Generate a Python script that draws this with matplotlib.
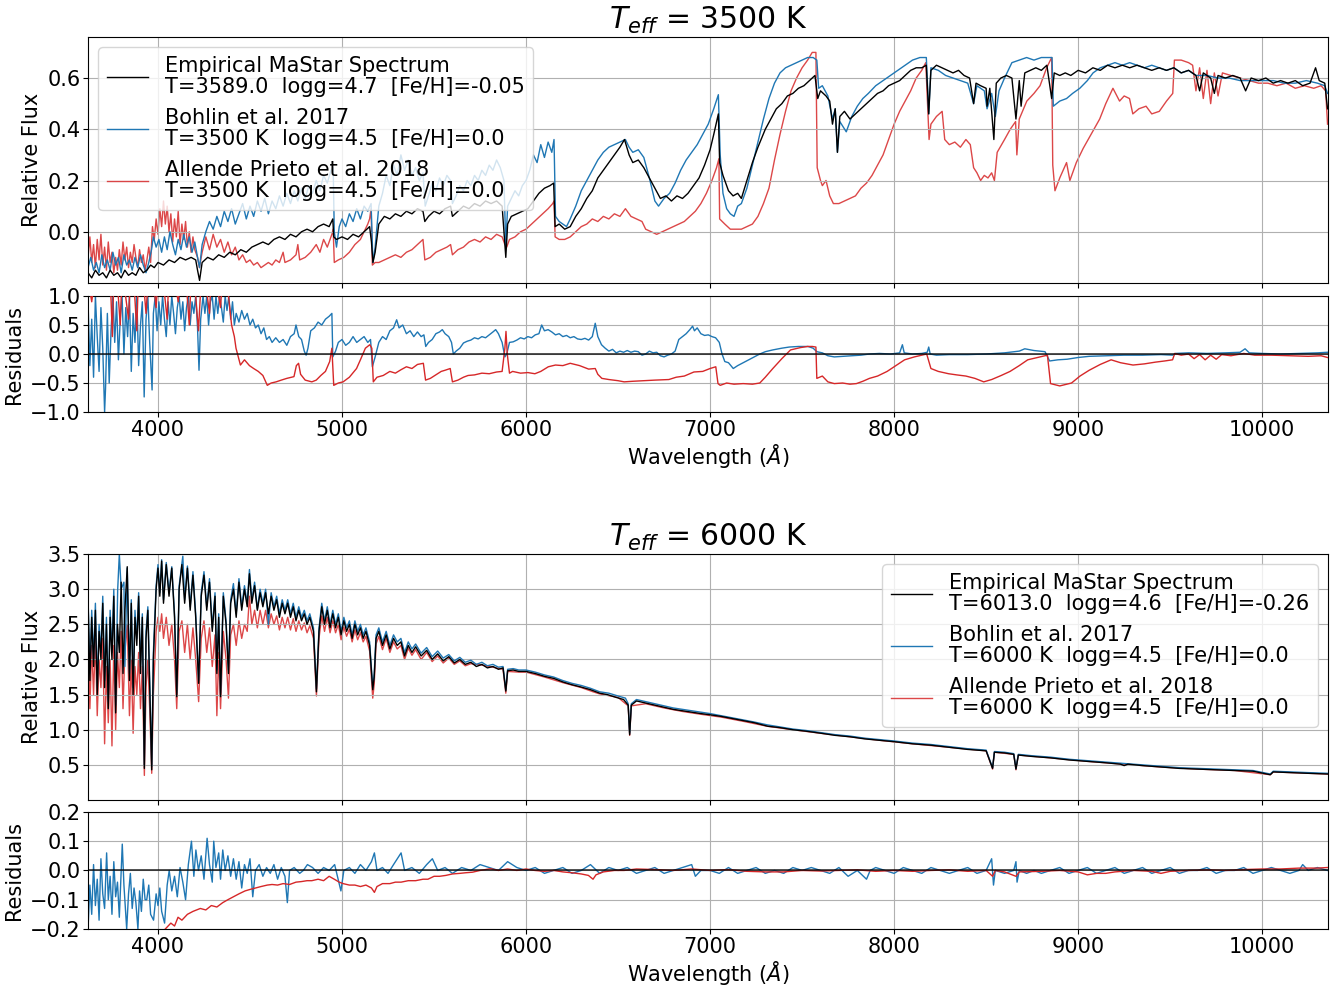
import numpy as np
import matplotlib.pyplot as plt

# ---- T_eff = 3500 K : (wavelength, relative flux) ----
mastar_3500 = np.array([
    (3620, -0.16), (3640, -0.18), (3660, -0.15), (3680, -0.17), (3700, -0.16), (3720, -0.18),
    (3740, -0.15), (3760, -0.17), (3780, -0.16), (3800, -0.18), (3820, -0.15), (3840, -0.17),
    (3860, -0.16), (3880, -0.17), (3900, -0.14), (3920, -0.16), (3940, -0.15), (3960, -0.13),
    (3980, -0.14), (4000, -0.12), (4030, -0.13), (4060, -0.11), (4090, -0.12), (4120, -0.10),
    (4150, -0.11), (4180, -0.10), (4205, -0.11), (4215, -0.15), (4226, -0.19), (4240, -0.12),
    (4270, -0.10), (4300, -0.11), (4330, -0.09), (4360, -0.10), (4390, -0.08), (4420, -0.09),
    (4450, -0.07), (4480, -0.08), (4510, -0.06), (4540, -0.05), (4570, -0.04), (4600, -0.05),
    (4630, -0.03), (4660, -0.02), (4690, -0.03), (4720, -0.01), (4750, -0.02), (4780, 0.0),
    (4810, 0.01), (4840, 0.0), (4870, 0.02), (4900, 0.03), (4930, 0.02), (4950, 0.05),
    (4955, -0.02), (4970, -0.03), (5000, -0.02), (5030, -0.03), (5060, -0.01), (5090, -0.02),
    (5120, 0.0), (5150, 0.02), (5160, -0.04), (5168, -0.12), (5180, -0.08), (5200, 0.03),
    (5230, 0.06), (5260, 0.05), (5290, 0.07), (5320, 0.06), (5350, 0.08), (5380, 0.07),
    (5410, 0.09), (5440, 0.08), (5450, 0.04), (5470, 0.06), (5500, 0.08), (5530, 0.07),
    (5560, 0.09), (5590, 0.10), (5600, 0.06), (5630, 0.08), (5660, 0.10), (5690, 0.09),
    (5720, 0.11), (5750, 0.10), (5780, 0.12), (5810, 0.11), (5840, 0.12), (5870, 0.10),
    (5890, -0.10), (5900, 0.03), (5920, 0.06), (5950, 0.07), (5980, 0.08), (6010, 0.09),
    (6040, 0.12), (6070, 0.15), (6100, 0.17), (6130, 0.18), (6150, 0.19), (6158, 0.02),
    (6180, 0.03), (6210, 0.01), (6240, 0.02), (6270, 0.06), (6300, 0.09), (6330, 0.13),
    (6360, 0.16), (6390, 0.21), (6420, 0.24), (6450, 0.27), (6480, 0.30), (6510, 0.33),
    (6535, 0.36), (6560, 0.30), (6580, 0.27), (6610, 0.28), (6640, 0.25), (6670, 0.21),
    (6700, 0.17), (6730, 0.13), (6760, 0.14), (6790, 0.12), (6820, 0.14), (6850, 0.13),
    (6880, 0.15), (6910, 0.18), (6940, 0.21), (6970, 0.26), (7000, 0.32), (7020, 0.38),
    (7045, 0.46), (7052, 0.27), (7070, 0.22), (7100, 0.16), (7125, 0.14), (7150, 0.15),
    (7170, 0.13), (7200, 0.20), (7230, 0.27), (7260, 0.33), (7300, 0.40), (7330, 0.44),
    (7360, 0.48), (7390, 0.50), (7420, 0.53), (7450, 0.54), (7480, 0.56), (7510, 0.57),
    (7540, 0.59), (7570, 0.61), (7585, 0.52), (7600, 0.55), (7630, 0.53), (7650, 0.51),
    (7665, 0.42), (7680, 0.48), (7692, 0.31), (7705, 0.45), (7730, 0.47), (7760, 0.44),
    (7790, 0.46), (7820, 0.48), (7850, 0.50), (7880, 0.52), (7910, 0.54), (7940, 0.55),
    (7970, 0.57), (8000, 0.58), (8030, 0.59), (8060, 0.61), (8090, 0.63), (8120, 0.64),
    (8150, 0.64), (8175, 0.65), (8188, 0.46), (8200, 0.63), (8230, 0.65), (8260, 0.64),
    (8290, 0.63), (8320, 0.62), (8350, 0.63), (8380, 0.61), (8410, 0.60), (8432, 0.50),
    (8445, 0.58), (8470, 0.57), (8500, 0.56), (8505, 0.49), (8520, 0.56), (8542, 0.36),
    (8555, 0.58), (8580, 0.60), (8610, 0.61), (8640, 0.60), (8662, 0.44), (8680, 0.59),
    (8690, 0.49), (8710, 0.62), (8740, 0.63), (8770, 0.64), (8800, 0.63), (8830, 0.65),
    (8856, 0.52), (8870, 0.62), (8900, 0.61), (8930, 0.62), (8960, 0.61), (9000, 0.63),
    (9040, 0.62), (9080, 0.64), (9120, 0.63), (9160, 0.65), (9200, 0.64), (9240, 0.65),
    (9280, 0.64), (9320, 0.65), (9360, 0.64), (9400, 0.63), (9440, 0.64), (9480, 0.63),
    (9520, 0.64), (9560, 0.62), (9600, 0.63), (9640, 0.61), (9660, 0.55), (9680, 0.62),
    (9720, 0.60), (9740, 0.54), (9760, 0.61), (9800, 0.60), (9840, 0.61), (9880, 0.60),
    (9910, 0.55), (9940, 0.60), (9980, 0.59), (10020, 0.60), (10060, 0.58), (10100, 0.59),
    (10140, 0.58), (10180, 0.59), (10220, 0.57), (10260, 0.58), (10290, 0.64), (10310, 0.59),
    (10340, 0.58), (10355, 0.48)])

bohlin_3500 = np.array([
    (3620, -0.14), (3635, -0.10), (3650, -0.15), (3665, -0.12), (3680, -0.16), (3695, -0.09),
    (3710, -0.14), (3725, -0.11), (3740, -0.15), (3755, -0.08), (3770, -0.13), (3785, -0.10),
    (3800, -0.16), (3815, -0.09), (3830, -0.13), (3845, -0.11), (3860, -0.15), (3875, -0.10),
    (3890, -0.14), (3905, -0.09), (3920, -0.13), (3935, -0.16), (3950, -0.12), (3965, -0.07),
    (3975, -0.02), (3990, -0.06), (4005, -0.03), (4020, -0.08), (4035, -0.02), (4050, -0.07),
    (4065, 0.00), (4080, -0.05), (4095, -0.09), (4110, -0.03), (4125, -0.07), (4140, -0.01),
    (4155, -0.06), (4170, -0.02), (4185, -0.08), (4200, -0.04), (4215, -0.10), (4226, -0.14),
    (4240, -0.05), (4260, 0.00), (4280, 0.04), (4300, 0.01), (4320, 0.06), (4340, 0.02),
    (4360, 0.08), (4380, 0.04), (4400, 0.09), (4420, 0.03), (4440, 0.07), (4460, 0.11),
    (4480, 0.05), (4500, 0.10), (4520, 0.06), (4540, 0.12), (4560, 0.08), (4580, 0.13),
    (4600, 0.07), (4620, 0.12), (4640, 0.09), (4660, 0.14), (4680, 0.10), (4700, 0.15),
    (4720, 0.11), (4740, 0.16), (4760, 0.12), (4780, 0.17), (4800, 0.13), (4820, 0.18),
    (4840, 0.15), (4860, 0.20), (4880, 0.16), (4900, 0.22), (4920, 0.19), (4940, 0.24),
    (4952, 0.25), (4958, 0.00), (4970, -0.06), (4985, 0.02), (5000, 0.05), (5020, 0.02),
    (5040, 0.07), (5060, 0.04), (5080, 0.09), (5100, 0.05), (5120, 0.10), (5140, 0.08),
    (5158, 0.11), (5168, -0.12), (5180, -0.06), (5200, 0.10), (5220, 0.15), (5240, 0.22),
    (5260, 0.18), (5280, 0.26), (5300, 0.22), (5320, 0.30), (5340, 0.24), (5360, 0.28),
    (5380, 0.22), (5400, 0.25), (5420, 0.20), (5440, 0.23), (5452, 0.10), (5470, 0.14),
    (5490, 0.19), (5510, 0.16), (5530, 0.21), (5550, 0.18), (5570, 0.22), (5590, 0.20),
    (5600, 0.11), (5620, 0.14), (5640, 0.18), (5660, 0.16), (5680, 0.20), (5700, 0.18),
    (5720, 0.22), (5740, 0.20), (5760, 0.24), (5780, 0.22), (5800, 0.26), (5820, 0.24),
    (5840, 0.28), (5860, 0.25), (5880, 0.20), (5890, -0.06), (5900, 0.10), (5920, 0.13),
    (5940, 0.16), (5960, 0.14), (5980, 0.18), (6000, 0.20), (6020, 0.24), (6040, 0.30),
    (6060, 0.27), (6080, 0.34), (6100, 0.29), (6120, 0.35), (6140, 0.31), (6152, 0.36),
    (6160, 0.06), (6180, 0.04), (6200, 0.03), (6220, 0.02), (6240, 0.05), (6270, 0.10),
    (6300, 0.16), (6330, 0.20), (6360, 0.24), (6390, 0.28), (6420, 0.31), (6450, 0.33),
    (6480, 0.34), (6510, 0.35), (6540, 0.36), (6560, 0.33), (6580, 0.31), (6610, 0.32),
    (6640, 0.29), (6670, 0.21), (6700, 0.12), (6720, 0.10), (6750, 0.13), (6780, 0.15),
    (6810, 0.19), (6840, 0.24), (6870, 0.28), (6900, 0.31), (6930, 0.34), (6960, 0.38),
    (6990, 0.42), (7020, 0.48), (7045, 0.535), (7055, 0.30), (7070, 0.15), (7090, 0.09),
    (7110, 0.07), (7130, 0.06), (7150, 0.10), (7170, 0.11), (7200, 0.17), (7230, 0.26),
    (7260, 0.35), (7290, 0.44), (7320, 0.52), (7350, 0.58), (7380, 0.62), (7410, 0.64),
    (7440, 0.65), (7470, 0.66), (7500, 0.67), (7530, 0.68), (7560, 0.68), (7580, 0.67),
    (7590, 0.56), (7610, 0.57), (7640, 0.53), (7665, 0.44), (7680, 0.48), (7692, 0.31),
    (7705, 0.43), (7740, 0.39), (7770, 0.45), (7800, 0.49), (7830, 0.52), (7860, 0.54),
    (7900, 0.57), (7940, 0.59), (7980, 0.61), (8020, 0.63), (8060, 0.65), (8100, 0.67),
    (8140, 0.68), (8175, 0.68), (8188, 0.46), (8200, 0.64), (8240, 0.63), (8280, 0.61),
    (8320, 0.60), (8360, 0.59), (8400, 0.58), (8432, 0.50), (8450, 0.57), (8490, 0.55),
    (8505, 0.48), (8530, 0.54), (8550, 0.45), (8570, 0.55), (8600, 0.60), (8640, 0.66),
    (8680, 0.67), (8720, 0.68), (8760, 0.67), (8800, 0.68), (8840, 0.68), (8858, 0.68),
    (8865, 0.49), (8900, 0.51), (8937, 0.52), (8970, 0.54), (9009, 0.56), (9050, 0.59),
    (9081, 0.62), (9120, 0.64), (9160, 0.65), (9200, 0.66), (9240, 0.65), (9280, 0.66),
    (9320, 0.65), (9360, 0.64), (9400, 0.65), (9440, 0.64), (9480, 0.63), (9520, 0.64),
    (9560, 0.62), (9600, 0.63), (9640, 0.61), (9700, 0.61), (9760, 0.60), (9820, 0.60),
    (9880, 0.59), (9940, 0.59), (10000, 0.59), (10060, 0.59), (10120, 0.58), (10180, 0.58),
    (10240, 0.59), (10300, 0.58), (10340, 0.57), (10355, 0.54)])

allende_3500 = np.array([
    (3620, -0.10), (3630, -0.02), (3640, -0.12), (3650, -0.05), (3660, -0.14), (3670, -0.03),
    (3680, -0.11), (3690, -0.01), (3700, -0.13), (3710, -0.06), (3720, -0.15), (3730, -0.04),
    (3740, -0.12), (3750, -0.08), (3760, -0.16), (3770, -0.10), (3780, -0.15), (3790, -0.07),
    (3800, -0.13), (3810, -0.04), (3820, -0.11), (3830, -0.06), (3840, -0.14), (3850, -0.08),
    (3860, -0.12), (3870, -0.05), (3880, -0.10), (3890, -0.14), (3900, -0.07), (3910, -0.12),
    (3920, -0.09), (3930, -0.15), (3940, -0.11), (3950, -0.06), (3960, -0.12), (3970, 0.02),
    (3980, -0.03), (3990, 0.05), (4000, -0.01), (4010, 0.09), (4020, 0.02), (4030, 0.12),
    (4040, 0.03), (4050, 0.10), (4060, 0.0), (4070, 0.07), (4080, -0.04), (4090, 0.05),
    (4100, -0.02), (4110, 0.08), (4120, -0.05), (4130, 0.03), (4140, -0.03), (4150, 0.04),
    (4160, -0.06), (4170, 0.0), (4180, -0.08), (4190, -0.02), (4200, -0.07), (4215, -0.10),
    (4225, -0.14), (4240, -0.08), (4260, -0.02), (4280, -0.07), (4300, -0.01), (4320, -0.06),
    (4340, -0.03), (4360, -0.08), (4380, -0.04), (4400, -0.09), (4420, -0.06), (4440, -0.11),
    (4460, -0.09), (4480, -0.12), (4500, -0.11), (4520, -0.13), (4540, -0.12), (4560, -0.14),
    (4580, -0.13), (4600, -0.12), (4620, -0.13), (4640, -0.11), (4660, -0.12), (4680, -0.08),
    (4690, -0.12), (4720, -0.11), (4750, -0.09), (4760, -0.05), (4770, -0.11), (4800, -0.10),
    (4830, -0.08), (4860, -0.05), (4880, -0.08), (4900, -0.03), (4920, -0.06), (4945, -0.01),
    (4952, 0.01), (4958, -0.12), (4980, -0.11), (5010, -0.10), (5040, -0.08), (5070, -0.05),
    (5100, -0.03), (5120, 0.0), (5140, 0.03), (5150, 0.05), (5158, 0.09), (5165, -0.13),
    (5180, -0.12), (5200, -0.12), (5230, -0.11), (5260, -0.10), (5290, -0.09), (5320, -0.10),
    (5350, -0.08), (5380, -0.07), (5410, -0.05), (5440, -0.03), (5450, -0.11), (5480, -0.10),
    (5510, -0.08), (5540, -0.07), (5570, -0.06), (5590, -0.05), (5600, -0.09), (5630, -0.07),
    (5660, -0.06), (5690, -0.04), (5720, -0.03), (5750, -0.04), (5780, -0.02), (5810, -0.03),
    (5840, -0.01), (5870, -0.02), (5885, -0.05), (5895, -0.06), (5910, -0.03), (5940, -0.02),
    (5970, 0.0), (6000, 0.01), (6030, 0.03), (6060, 0.05), (6090, 0.07), (6120, 0.09),
    (6145, 0.11), (6152, 0.12), (6158, -0.02), (6180, -0.03), (6210, -0.03), (6240, -0.02),
    (6270, 0.0), (6300, 0.02), (6330, 0.03), (6360, 0.05), (6390, 0.04), (6420, 0.06),
    (6450, 0.05), (6480, 0.07), (6510, 0.06), (6540, 0.09), (6570, 0.06), (6600, 0.05),
    (6630, 0.04), (6650, 0.01), (6680, 0.0), (6710, -0.01), (6740, 0.0), (6770, 0.01),
    (6800, 0.02), (6830, 0.03), (6860, 0.04), (6890, 0.06), (6920, 0.08), (6950, 0.11),
    (6980, 0.15), (7010, 0.20), (7035, 0.25), (7048, 0.285), (7052, 0.05), (7080, 0.03),
    (7110, 0.01), (7140, 0.01), (7170, 0.01), (7200, 0.02), (7230, 0.03), (7260, 0.06),
    (7290, 0.11), (7320, 0.17), (7350, 0.28), (7380, 0.38), (7410, 0.47), (7440, 0.55),
    (7470, 0.60), (7500, 0.64), (7530, 0.67), (7555, 0.70), (7575, 0.70), (7582, 0.25),
    (7600, 0.20), (7610, 0.18), (7630, 0.20), (7650, 0.14), (7670, 0.11), (7700, 0.11),
    (7730, 0.12), (7760, 0.13), (7790, 0.14), (7820, 0.17), (7850, 0.19), (7880, 0.22),
    (7910, 0.26), (7940, 0.30), (7970, 0.36), (8000, 0.42), (8030, 0.47), (8060, 0.51),
    (8090, 0.55), (8120, 0.60), (8150, 0.63), (8172, 0.66), (8190, 0.36), (8200, 0.42),
    (8230, 0.45), (8261, 0.47), (8275, 0.36), (8300, 0.34), (8330, 0.35), (8360, 0.33),
    (8390, 0.36), (8414, 0.34), (8432, 0.25), (8450, 0.23), (8470, 0.20), (8490, 0.22),
    (8510, 0.21), (8530, 0.23), (8545, 0.20), (8560, 0.31), (8600, 0.36), (8631, 0.40),
    (8660, 0.43), (8667, 0.30), (8680, 0.44), (8721, 0.51), (8760, 0.54), (8793, 0.57),
    (8829, 0.64), (8856, 0.68), (8862, 0.26), (8874, 0.16), (8900, 0.21), (8937, 0.27),
    (8955, 0.20), (8990, 0.27), (9027, 0.325), (9070, 0.38), (9117, 0.44), (9150, 0.50),
    (9189, 0.56), (9225, 0.51), (9250, 0.53), (9279, 0.52), (9297, 0.46), (9330, 0.48),
    (9369, 0.49), (9400, 0.46), (9441, 0.47), (9480, 0.51), (9514, 0.54), (9523, 0.67),
    (9560, 0.67), (9600, 0.66), (9622, 0.65), (9640, 0.55), (9660, 0.64), (9680, 0.52),
    (9700, 0.63), (9720, 0.50), (9740, 0.62), (9760, 0.53), (9784, 0.62), (9830, 0.61),
    (9880, 0.60), (9930, 0.59), (9980, 0.58), (10030, 0.58), (10080, 0.57), (10130, 0.58),
    (10180, 0.56), (10230, 0.57), (10280, 0.56), (10320, 0.57), (10345, 0.55), (10355, 0.42)])

# ---- T_eff = 3500 K : residuals ----
res_bohlin_3500 = np.array([
    (3620, 0.9), (3630, -0.2), (3640, 0.6), (3650, -0.4), (3660, 1.0), (3670, 0.3), (3680, -0.3),
    (3690, 0.8), (3700, 0.1), (3710, -1.0), (3715, -0.6), (3725, 0.7), (3735, -0.5), (3745, 0.4),
    (3755, 1.0), (3765, 0.2), (3775, 0.9), (3785, -0.1), (3795, 0.6), (3805, 1.0), (3815, 0.0),
    (3825, 0.8), (3835, 0.3), (3845, 1.0), (3855, -0.3), (3865, 0.7), (3875, 0.2), (3885, 1.0),
    (3895, -0.2), (3905, 0.5), (3915, 0.9), (3925, -0.74), (3935, 0.6), (3945, 1.0), (3955, 0.2),
    (3968, -0.62), (3975, 0.7), (3985, 1.0), (3995, 0.4), (4005, 0.9), (4015, 0.5), (4025, 1.0),
    (4035, 0.6), (4045, 0.3), (4055, 0.9), (4065, 0.5), (4075, 1.0), (4085, 0.7), (4095, 0.35),
    (4105, 0.8), (4115, 1.0), (4125, 0.6), (4135, 0.9), (4145, 0.4), (4155, 0.8), (4165, 1.0),
    (4175, 0.5), (4185, 0.9), (4195, 0.7), (4205, 1.0), (4215, 0.45), (4223, -0.28), (4232, 0.6),
    (4245, 1.0), (4255, 0.7), (4265, 1.0), (4275, 0.5), (4285, 0.9), (4295, 1.0), (4305, 0.6),
    (4315, 1.0), (4325, 0.7), (4335, 1.0), (4345, 0.8), (4355, 0.55), (4365, 1.0), (4375, 0.75),
    (4385, 1.0), (4395, 0.6), (4405, 0.9), (4415, 0.5), (4425, 0.7), (4440, 0.55), (4455, 0.75),
    (4470, 0.6), (4485, 0.7), (4500, 0.5), (4515, 0.6), (4530, 0.45), (4545, 0.5), (4560, 0.35),
    (4575, 0.45), (4590, 0.25), (4605, 0.3), (4620, 0.2), (4640, 0.28), (4660, 0.2), (4680, 0.25),
    (4700, 0.15), (4720, 0.3), (4740, 0.35), (4750, 0.5), (4765, 0.3), (4780, 0.25), (4795, 0.05),
    (4805, -0.02), (4815, 0.1), (4830, 0.4), (4850, 0.45), (4870, 0.55), (4890, 0.5), (4910, 0.6),
    (4930, 0.65), (4945, 0.7), (4950, -0.05), (4965, 0.05), (4980, 0.2), (5000, 0.25), (5020, 0.15),
    (5040, 0.2), (5060, 0.3), (5080, 0.2), (5100, 0.25), (5120, 0.3), (5140, 0.2), (5155, 0.25),
    (5165, -0.22), (5180, -0.05), (5200, 0.2), (5220, 0.3), (5240, 0.25), (5260, 0.4), (5280, 0.45),
    (5297, 0.59), (5310, 0.45), (5330, 0.5), (5350, 0.35), (5370, 0.4), (5390, 0.3), (5410, 0.38),
    (5430, 0.3), (5445, 0.33), (5455, 0.13), (5470, 0.2), (5490, 0.25), (5510, 0.35), (5530, 0.38),
    (5545, 0.42), (5560, 0.35), (5580, 0.3), (5595, 0.2), (5605, 0.0), (5620, 0.05), (5640, 0.1),
    (5660, 0.19), (5680, 0.22), (5700, 0.24), (5720, 0.28), (5740, 0.26), (5760, 0.3), (5780, 0.28),
    (5800, 0.33), (5820, 0.38), (5835, 0.42), (5850, 0.35), (5870, 0.2), (5885, -0.05), (5895, 0.0),
    (5910, 0.2), (5930, 0.21), (5950, 0.24), (5970, 0.28), (5990, 0.26), (6010, 0.3), (6030, 0.28),
    (6050, 0.33), (6070, 0.35), (6085, 0.5), (6100, 0.4), (6120, 0.42), (6140, 0.38), (6160, 0.33),
    (6180, 0.35), (6200, 0.3), (6220, 0.32), (6240, 0.28), (6260, 0.3), (6280, 0.26), (6300, 0.25),
    (6320, 0.27), (6340, 0.24), (6360, 0.3), (6376, 0.53), (6390, 0.3), (6410, 0.16), (6430, 0.1),
    (6450, 0.05), (6470, 0.08), (6490, 0.02), (6510, 0.05), (6530, 0.03), (6550, 0.06), (6570, 0.03),
    (6590, 0.05), (6610, 0.04), (6630, -0.02), (6650, 0.0), (6670, 0.05), (6690, 0.02), (6710, 0.03),
    (6730, -0.03), (6750, -0.05), (6770, -0.02), (6790, 0.0), (6810, 0.05), (6830, 0.25), (6850, 0.3),
    (6870, 0.35), (6890, 0.42), (6905, 0.48), (6915, 0.4), (6930, 0.45), (6950, 0.35), (6970, 0.32),
    (6990, 0.33), (7010, 0.3), (7030, 0.28), (7050, 0.2), (7065, 0.0), (7080, -0.13), (7100, -0.15),
    (7126, -0.25), (7150, -0.2), (7180, -0.15), (7210, -0.1), (7240, -0.05), (7270, 0.0), (7300, 0.04),
    (7340, 0.07), (7389, 0.1), (7430, 0.12), (7480, 0.13), (7532, 0.13), (7560, 0.1), (7580, 0.04),
    (7610, 0.02), (7640, -0.03), (7675, -0.05), (7720, -0.04), (7770, -0.03), (7820, -0.02),
    (7866, 0.0), (7920, 0.01), (7980, 0.0), (8030, 0.02), (8045, 0.16), (8055, 0.02), (8100, 0.0),
    (8150, 0.01), (8180, 0.03), (8188, 0.12), (8196, 0.0), (8230, -0.02), (8300, -0.01),
    (8400, -0.01), (8500, 0.0), (8600, 0.02), (8680, 0.05), (8710, 0.09), (8760, 0.06),
    (8820, 0.04), (8845, -0.12), (8890, -0.1), (8940, -0.09), (9000, -0.06), (9060, -0.04),
    (9150, -0.03), (9250, -0.02), (9350, -0.02), (9450, -0.01), (9513, -0.02), (9530, 0.01),
    (9600, 0.02), (9700, 0.01), (9800, 0.02), (9880, 0.03), (9907, 0.09), (9930, 0.02),
    (10000, 0.01), (10100, 0.0), (10200, 0.01), (10300, 0.02), (10355, 0.03)])

res_allende_3500 = np.array([
    (3620, 1.3), (3640, 0.9), (3660, 1.4), (3680, 1.2), (3700, 1.5), (3720, 1.1), (3740, 1.4),
    (3752, 0.3), (3760, 1.3), (3780, 1.2), (3795, 0.5), (3805, 1.4), (3820, 1.1), (3840, 0.6),
    (3850, 1.3), (3870, 1.2), (3885, 0.4), (3895, 1.5), (3920, 1.3), (3935, 0.7), (3945, 1.2),
    (3970, 1.4), (3990, 0.8), (4000, 1.3), (4030, 1.2), (4050, 0.6), (4060, 1.4), (4090, 1.3),
    (4110, 0.9), (4120, 1.2), (4150, 1.4), (4170, 0.5), (4180, 1.3), (4200, 1.2), (4220, 0.4),
    (4235, 1.3), (4260, 1.2), (4280, 0.7), (4290, 1.4), (4320, 1.2), (4340, 0.8), (4350, 1.3),
    (4380, 1.1), (4400, 0.5), (4415, 0.3), (4424, 0.1), (4448, -0.19), (4470, -0.1), (4497, -0.2),
    (4520, -0.25), (4545, -0.3), (4570, -0.37), (4594, -0.54), (4615, -0.5), (4642, -0.48),
    (4670, -0.45), (4700, -0.42), (4739, -0.39), (4752, -0.2), (4764, -0.16), (4775, -0.35),
    (4800, -0.45), (4836, -0.48), (4860, -0.45), (4885, -0.37), (4910, -0.3), (4933, -0.13),
    (4945, 0.1), (4955, -0.54), (4980, -0.5), (5006, -0.48), (5040, -0.4), (5079, -0.25),
    (5100, -0.1), (5127, 0.1), (5151, 0.16), (5162, 0.1), (5170, -0.48), (5190, -0.4),
    (5224, -0.37), (5260, -0.3), (5290, -0.33), (5321, -0.27), (5350, -0.22), (5380, -0.25),
    (5410, -0.18), (5442, -0.16), (5454, -0.45), (5480, -0.42), (5510, -0.36), (5539, -0.3),
    (5560, -0.28), (5588, -0.25), (5600, -0.48), (5630, -0.45), (5660, -0.4), (5685, -0.37),
    (5720, -0.36), (5760, -0.33), (5800, -0.34), (5840, -0.31), (5870, -0.3), (5885, 0.1),
    (5891, 0.39), (5898, 0.0), (5910, -0.33), (5927, -0.3), (5970, -0.33), (6010, -0.32),
    (6048, -0.34), (6080, -0.3), (6121, -0.22), (6160, -0.19), (6200, -0.2), (6240, -0.16),
    (6291, -0.2), (6340, -0.26), (6376, -0.25), (6390, -0.35), (6412, -0.42), (6450, -0.44),
    (6500, -0.46), (6533, -0.48), (6580, -0.47), (6640, -0.46), (6700, -0.45), (6776, -0.44),
    (6816, -0.4), (6860, -0.38), (6912, -0.31), (6960, -0.3), (7000, -0.25), (7031, -0.22),
    (7043, -0.51), (7055, -0.54), (7090, -0.5), (7130, -0.52), (7180, -0.51), (7230, -0.52),
    (7270, -0.5), (7300, -0.4), (7341, -0.25), (7390, -0.08), (7437, 0.07), (7490, 0.11),
    (7530, 0.13), (7556, 0.13), (7575, 0.12), (7580, -0.42), (7610, -0.38), (7640, -0.48),
    (7675, -0.51), (7720, -0.5), (7760, -0.52), (7795, -0.51), (7830, -0.47), (7866, -0.42),
    (7910, -0.38), (7962, -0.3), (8010, -0.2), (8057, -0.1), (8110, -0.05), (8150, -0.02),
    (8177, 0.0), (8200, -0.25), (8240, -0.3), (8296, -0.34), (8340, -0.36), (8390, -0.38),
    (8439, -0.42), (8487, -0.48), (8530, -0.44), (8582, -0.37), (8630, -0.3), (8680, -0.2),
    (8726, -0.1), (8780, -0.06), (8833, -0.02), (8850, -0.51), (8900, -0.55), (8964, -0.5),
    (9010, -0.38), (9060, -0.28), (9120, -0.18), (9179, -0.1), (9230, -0.15), (9298, -0.19),
    (9360, -0.17), (9420, -0.14), (9470, -0.12), (9513, -0.1), (9525, 0.01), (9560, -0.02),
    (9600, 0.0), (9630, -0.08), (9660, -0.01), (9690, -0.1), (9720, -0.02), (9750, -0.09),
    (9780, -0.01), (9830, -0.03), (9900, 0.01), (9960, -0.02), (10050, -0.02), (10150, -0.03),
    (10250, -0.04), (10320, -0.03), (10355, -0.06)])

# ---- T_eff = 6000 K : (wavelength, relative flux) ----
mastar_6000 = np.array([
    (3620, 2.85), (3630, 1.7), (3640, 2.6), (3650, 1.9), (3660, 2.7), (3670, 1.5), (3680, 2.4),
    (3690, 2.0), (3700, 2.8), (3710, 1.6), (3720, 2.5), (3730, 1.3), (3740, 2.6), (3750, 2.0),
    (3760, 2.9), (3770, 1.24), (3780, 2.5), (3790, 2.1), (3800, 3.1), (3810, 1.8), (3820, 2.7),
    (3833, 3.32), (3845, 1.7), (3855, 2.8), (3865, 1.5), (3875, 2.6), (3885, 2.2), (3895, 2.9),
    (3905, 1.8), (3915, 2.6), (3926, 0.45), (3935, 2.3), (3945, 2.7), (3955, 1.6), (3966, 0.43),
    (3975, 2.0), (3990, 3.0), (4000, 3.3), (4010, 2.9), (4020, 3.4), (4030, 2.8), (4045, 3.35),
    (4060, 2.9), (4075, 3.3), (4090, 2.6), (4102, 1.47), (4115, 3.0), (4130, 3.35), (4145, 2.8),
    (4160, 3.3), (4175, 2.7), (4190, 3.2), (4205, 2.6), (4221, 1.66), (4235, 2.9), (4250, 3.2),
    (4265, 2.7), (4280, 3.1), (4295, 2.4), (4310, 2.9), (4320, 1.8), (4330, 2.6), (4340, 1.47),
    (4355, 2.9), (4370, 2.5), (4383, 1.8), (4395, 2.8), (4410, 3.0), (4425, 2.6), (4440, 3.1),
    (4455, 2.7), (4470, 3.0), (4485, 2.75), (4497, 3.22), (4510, 2.8), (4525, 3.05), (4540, 2.7),
    (4555, 2.95), (4570, 2.75), (4585, 2.95), (4600, 2.65), (4615, 2.9), (4630, 2.7), (4645, 2.85),
    (4660, 2.6), (4675, 2.8), (4690, 2.65), (4705, 2.8), (4720, 2.6), (4735, 2.75), (4750, 2.55),
    (4765, 2.7), (4780, 2.55), (4795, 2.65), (4810, 2.5), (4825, 2.6), (4845, 2.4), (4861, 1.54),
    (4875, 2.4), (4890, 2.75), (4905, 2.5), (4920, 2.7), (4935, 2.45), (4950, 2.65), (4965, 2.45),
    (4980, 2.6), (4995, 2.35), (5010, 2.55), (5025, 2.4), (5040, 2.5), (5055, 2.3), (5070, 2.5),
    (5085, 2.35), (5100, 2.45), (5115, 2.3), (5130, 2.4), (5150, 2.2), (5167, 1.57), (5175, 1.75),
    (5185, 2.3), (5200, 2.4), (5220, 2.2), (5240, 2.35), (5260, 2.15), (5280, 2.3), (5300, 2.2),
    (5320, 2.25), (5340, 2.05), (5360, 2.2), (5380, 2.1), (5400, 2.18), (5430, 2.05), (5460, 2.13),
    (5490, 2.0), (5520, 2.08), (5550, 1.98), (5580, 2.04), (5610, 1.95), (5640, 2.0), (5670, 1.93),
    (5700, 1.96), (5730, 1.9), (5760, 1.93), (5790, 1.88), (5820, 1.9), (5850, 1.86), (5875, 1.88),
    (5890, 1.55), (5900, 1.84), (5930, 1.85), (5960, 1.83), (6000, 1.83), (6050, 1.8), (6100, 1.76),
    (6151, 1.73), (6200, 1.68), (6250, 1.64), (6296, 1.61), (6350, 1.57), (6400, 1.52), (6442, 1.50),
    (6490, 1.46), (6530, 1.43), (6555, 1.35), (6563, 0.93), (6572, 1.35), (6600, 1.41), (6650, 1.38),
    (6700, 1.35), (6750, 1.32), (6800, 1.29), (6850, 1.27), (6900, 1.25), (6950, 1.23), (7008, 1.21),
    (7060, 1.19), (7120, 1.16), (7180, 1.13), (7240, 1.10), (7313, 1.05), (7380, 1.03), (7450, 1.0),
    (7520, 0.98), (7603, 0.95), (7680, 0.92), (7760, 0.90), (7840, 0.87), (7920, 0.85), (8001, 0.83),
    (8100, 0.80), (8200, 0.78), (8300, 0.75), (8400, 0.72), (8500, 0.70), (8535, 0.45), (8545, 0.68),
    (8600, 0.67), (8650, 0.65), (8662, 0.44), (8675, 0.64), (8750, 0.62), (8850, 0.60), (8950, 0.57),
    (9050, 0.55), (9150, 0.53), (9230, 0.51), (9250, 0.49), (9270, 0.51), (9350, 0.49), (9450, 0.47),
    (9550, 0.45), (9650, 0.44), (9750, 0.43), (9850, 0.42), (9950, 0.41), (10044, 0.36), (10060, 0.40),
    (10150, 0.39), (10250, 0.38), (10355, 0.37)])

bohlin_6000 = np.array([
    (3620, 2.9), (3630, 1.8), (3640, 2.7), (3650, 2.0), (3660, 2.8), (3670, 1.6), (3680, 2.5),
    (3690, 2.1), (3700, 2.9), (3710, 1.7), (3720, 2.6), (3730, 1.4), (3740, 2.7), (3750, 2.1),
    (3760, 3.0), (3770, 1.35), (3781, 2.99), (3790, 3.5), (3800, 3.0), (3815, 3.1), (3820, 1.9),
    (3833, 3.3), (3845, 1.8), (3855, 2.85), (3865, 1.6), (3875, 2.7), (3885, 2.3), (3895, 2.95),
    (3905, 1.9), (3915, 2.65), (3926, 0.5), (3935, 2.4), (3945, 2.75), (3955, 1.7), (3966, 0.48),
    (3975, 2.1), (3990, 3.05), (4000, 3.35), (4010, 2.95), (4020, 3.42), (4030, 2.85), (4045, 3.38),
    (4060, 2.95), (4075, 3.32), (4090, 2.65), (4102, 1.52), (4115, 3.05), (4135, 3.47), (4145, 2.85),
    (4160, 3.33), (4175, 2.75), (4190, 3.25), (4205, 2.65), (4221, 1.7), (4235, 2.95), (4250, 3.25),
    (4265, 2.75), (4280, 3.15), (4295, 2.45), (4310, 2.95), (4320, 1.85), (4330, 2.65), (4340, 1.52),
    (4355, 2.95), (4370, 2.55), (4383, 1.85), (4395, 2.85), (4410, 3.08), (4425, 2.65), (4440, 3.15),
    (4455, 2.75), (4470, 3.05), (4485, 2.8), (4497, 3.28), (4510, 2.85), (4525, 3.1), (4540, 2.72),
    (4555, 3.0), (4570, 2.8), (4585, 3.0), (4600, 2.5), (4615, 2.95), (4630, 2.75), (4645, 2.9),
    (4660, 2.65), (4675, 2.85), (4690, 2.7), (4705, 2.85), (4720, 2.65), (4735, 2.8), (4750, 2.6),
    (4765, 2.75), (4780, 2.6), (4795, 2.7), (4810, 2.55), (4825, 2.65), (4845, 2.45), (4861, 1.58),
    (4875, 2.45), (4890, 2.8), (4905, 2.55), (4920, 2.75), (4935, 2.5), (4950, 2.7), (4965, 2.5),
    (4980, 2.65), (4995, 2.4), (5010, 2.6), (5025, 2.45), (5040, 2.55), (5055, 2.35), (5070, 2.55),
    (5085, 2.4), (5100, 2.5), (5115, 2.35), (5130, 2.45), (5150, 2.25), (5167, 1.6), (5175, 1.8),
    (5185, 2.35), (5200, 2.45), (5220, 2.25), (5240, 2.4), (5260, 2.2), (5280, 2.35), (5300, 2.25),
    (5320, 2.3), (5340, 2.1), (5360, 2.25), (5380, 2.15), (5400, 2.22), (5430, 2.09), (5460, 2.17),
    (5490, 2.04), (5520, 2.12), (5550, 2.02), (5580, 2.07), (5610, 1.98), (5640, 2.03), (5670, 1.96),
    (5700, 1.99), (5730, 1.93), (5760, 1.96), (5790, 1.91), (5820, 1.93), (5850, 1.89), (5875, 1.9),
    (5890, 1.57), (5900, 1.86), (5930, 1.87), (5960, 1.85), (6000, 1.85), (6050, 1.82), (6100, 1.78),
    (6150, 1.75), (6200, 1.70), (6250, 1.66), (6300, 1.63), (6350, 1.59), (6400, 1.54), (6450, 1.52),
    (6500, 1.48), (6540, 1.45), (6555, 1.37), (6563, 0.95), (6572, 1.37), (6600, 1.43), (6650, 1.40),
    (6700, 1.37), (6750, 1.34), (6800, 1.31), (6850, 1.29), (6900, 1.27), (6950, 1.25), (7000, 1.23),
    (7060, 1.20), (7120, 1.17), (7180, 1.14), (7240, 1.11), (7310, 1.07), (7380, 1.04), (7450, 1.01),
    (7520, 0.99), (7600, 0.96), (7680, 0.93), (7760, 0.91), (7840, 0.88), (7920, 0.86), (8000, 0.84),
    (8100, 0.81), (8200, 0.79), (8300, 0.76), (8400, 0.73), (8500, 0.71), (8535, 0.46), (8545, 0.69),
    (8600, 0.68), (8650, 0.66), (8662, 0.45), (8675, 0.65), (8750, 0.63), (8850, 0.61), (8950, 0.58),
    (9050, 0.56), (9150, 0.54), (9250, 0.52), (9350, 0.50), (9450, 0.48), (9550, 0.46), (9650, 0.45),
    (9750, 0.44), (9850, 0.43), (9950, 0.42), (10044, 0.37), (10060, 0.41), (10150, 0.40),
    (10250, 0.39), (10355, 0.38)])

allende_6000 = np.array([
    (3620, 2.4), (3630, 1.3), (3640, 2.2), (3650, 1.5), (3660, 2.3), (3670, 1.2), (3680, 2.0),
    (3690, 1.6), (3700, 2.3), (3710, 0.8), (3720, 1.9), (3730, 1.1), (3740, 2.0), (3750, 0.77),
    (3760, 2.2), (3770, 1.0), (3780, 2.1), (3790, 1.6), (3800, 2.4), (3810, 1.3), (3820, 2.1),
    (3833, 2.5), (3845, 1.2), (3855, 2.0), (3865, 0.95), (3875, 1.9), (3885, 1.5), (3895, 2.1),
    (3905, 1.3), (3915, 1.9), (3926, 0.35), (3935, 1.6), (3945, 2.0), (3955, 1.3), (3966, 0.38),
    (3975, 1.5), (3990, 2.4), (4000, 2.6), (4010, 2.4), (4020, 2.65), (4030, 2.3), (4045, 2.6),
    (4060, 2.2), (4075, 2.5), (4090, 2.0), (4102, 1.3), (4115, 2.4), (4130, 2.55), (4145, 2.1),
    (4160, 2.5), (4175, 2.0), (4190, 2.45), (4205, 2.0), (4221, 1.4), (4235, 2.3), (4250, 2.55),
    (4265, 2.1), (4280, 2.45), (4295, 1.9), (4310, 2.35), (4320, 1.2), (4330, 2.1), (4340, 1.3),
    (4355, 2.4), (4370, 2.0), (4383, 1.45), (4395, 2.35), (4410, 2.5), (4425, 2.2), (4440, 2.55),
    (4455, 2.3), (4470, 2.5), (4485, 2.4), (4497, 2.9), (4510, 2.5), (4525, 2.7), (4540, 2.45),
    (4555, 2.7), (4570, 2.5), (4585, 2.7), (4600, 2.45), (4615, 2.65), (4630, 2.5), (4645, 2.62),
    (4660, 2.42), (4675, 2.6), (4690, 2.45), (4705, 2.6), (4720, 2.42), (4735, 2.58), (4750, 2.4),
    (4765, 2.55), (4780, 2.42), (4795, 2.52), (4810, 2.38), (4825, 2.48), (4845, 2.3), (4861, 1.48),
    (4875, 2.3), (4890, 2.62), (4905, 2.4), (4920, 2.6), (4935, 2.38), (4950, 2.55), (4965, 2.38),
    (4980, 2.5), (4995, 2.28), (5010, 2.46), (5025, 2.33), (5040, 2.43), (5055, 2.25), (5070, 2.42),
    (5085, 2.28), (5100, 2.38), (5115, 2.25), (5130, 2.33), (5150, 2.12), (5167, 1.45), (5175, 1.65),
    (5185, 2.22), (5200, 2.33), (5220, 2.14), (5240, 2.3), (5260, 2.1), (5280, 2.25), (5300, 2.15),
    (5320, 2.2), (5340, 2.0), (5360, 2.16), (5380, 2.06), (5400, 2.14), (5430, 2.0), (5460, 2.1),
    (5490, 1.97), (5520, 2.05), (5550, 1.95), (5580, 2.02), (5610, 1.93), (5640, 1.98), (5670, 1.91),
    (5700, 1.94), (5760, 1.92), (5820, 1.89), (5875, 1.86), (5890, 1.52), (5900, 1.83), (5960, 1.82),
    (6000, 1.82), (6100, 1.75), (6200, 1.67), (6300, 1.60), (6364, 1.54), (6400, 1.51), (6500, 1.46),
    (6555, 1.34), (6563, 0.92), (6572, 1.34), (6650, 1.37), (6750, 1.31), (6850, 1.26), (6950, 1.22),
    (7060, 1.18), (7180, 1.12), (7310, 1.05), (7450, 1.00), (7600, 0.95), (7760, 0.90), (7920, 0.85),
    (8100, 0.80), (8300, 0.75), (8500, 0.70), (8535, 0.44), (8545, 0.68), (8650, 0.65), (8662, 0.43),
    (8675, 0.64), (8850, 0.60), (9050, 0.55), (9250, 0.51), (9450, 0.47), (9650, 0.44), (9850, 0.42),
    (10044, 0.36), (10060, 0.40), (10250, 0.38), (10355, 0.37)])

# ---- T_eff = 6000 K : residuals ----
res_bohlin_6000 = np.array([
    (3620, -0.2), (3630, -0.05), (3640, -0.15), (3650, 0.02), (3660, -0.12), (3670, -0.03),
    (3680, -0.17), (3690, 0.04), (3700, -0.08), (3710, -0.13), (3721, 0.06), (3730, -0.1),
    (3740, -0.02), (3750, -0.15), (3760, 0.03), (3770, -0.09), (3780, -0.04), (3790, -0.16),
    (3806, 0.09), (3815, -0.05), (3830, -0.2), (3840, -0.08), (3850, -0.01), (3860, -0.13),
    (3870, -0.06), (3880, -0.11), (3891, -0.2), (3900, -0.07), (3910, -0.14), (3920, -0.03),
    (3930, -0.1), (3939, -0.1), (3950, -0.05), (3960, -0.15), (3976, -0.17), (3990, -0.08),
    (4000, -0.12), (4010, -0.06), (4020, -0.14), (4036, -0.18), (4050, -0.05), (4061, 0.0),
    (4075, -0.07), (4090, -0.02), (4105, -0.09), (4120, 0.01), (4135, -0.04), (4150, -0.1),
    (4165, 0.02), (4182, 0.1), (4195, -0.02), (4206, 0.07), (4220, 0.0), (4235, 0.05),
    (4250, -0.03), (4267, 0.11), (4280, 0.02), (4295, -0.04), (4303, 0.1), (4315, 0.01),
    (4330, 0.06), (4340, -0.03), (4352, 0.07), (4365, 0.0), (4380, 0.05), (4395, -0.02),
    (4410, 0.04), (4425, -0.03), (4440, 0.03), (4455, -0.06), (4470, 0.02), (4485, -0.01),
    (4500, 0.04), (4515, -0.09), (4530, 0.0), (4550, 0.02), (4570, -0.02), (4590, 0.01),
    (4610, -0.01), (4630, 0.02), (4650, -0.03), (4670, 0.01), (4690, -0.02), (4703, -0.11),
    (4715, 0.0), (4740, 0.01), (4770, -0.01), (4790, 0.0), (4812, 0.02), (4840, 0.01),
    (4870, -0.01), (4900, 0.01), (4930, 0.0), (4960, 0.02), (4994, -0.07), (5010, 0.0),
    (5040, 0.01), (5070, -0.01), (5100, 0.02), (5130, 0.0), (5160, 0.03), (5176, 0.06),
    (5190, 0.0), (5220, 0.01), (5250, -0.01), (5280, 0.02), (5321, 0.06), (5340, 0.0),
    (5380, 0.01), (5420, -0.01), (5460, 0.02), (5491, 0.04), (5520, 0.0), (5560, 0.01),
    (5600, -0.01), (5650, 0.01), (5700, 0.0), (5750, 0.02), (5800, 0.01), (5850, 0.0),
    (5900, 0.03), (5950, 0.01), (6000, 0.0), (6050, 0.01), (6100, -0.01), (6150, 0.0),
    (6200, 0.01), (6250, -0.01), (6300, 0.0), (6350, 0.02), (6400, -0.01), (6450, 0.01),
    (6500, 0.0), (6550, 0.01), (6600, -0.01), (6650, 0.0), (6700, 0.01), (6750, -0.01),
    (6800, 0.0), (6850, 0.01), (6900, 0.02), (6920, -0.02), (6950, 0.0), (7000, 0.0),
    (7050, -0.01), (7100, 0.01), (7150, -0.01), (7200, 0.0), (7250, 0.01), (7300, -0.01),
    (7350, 0.0), (7400, -0.01), (7450, 0.01), (7500, 0.0), (7550, 0.01), (7600, 0.0),
    (7650, -0.01), (7700, 0.01), (7750, -0.02), (7800, 0.0), (7850, -0.03), (7870, 0.0),
    (7900, 0.01), (7950, 0.0), (8000, -0.01), (8050, 0.01), (8100, 0.0), (8150, -0.01),
    (8200, 0.01), (8250, 0.0), (8300, -0.01), (8350, 0.0), (8400, 0.01), (8450, -0.01),
    (8500, 0.0), (8530, 0.04), (8540, -0.05), (8550, 0.0), (8600, -0.01), (8650, 0.0),
    (8662, 0.03), (8668, -0.04), (8680, 0.0), (8720, -0.01), (8760, 0.0), (8800, -0.01),
    (8850, 0.0), (8900, 0.01), (8950, -0.01), (9000, 0.0), (9050, 0.01), (9100, -0.01),
    (9150, 0.0), (9200, 0.01), (9250, -0.01), (9300, 0.0), (9350, 0.01), (9400, -0.01),
    (9450, 0.0), (9500, 0.01), (9550, -0.01), (9600, 0.0), (9650, 0.0), (9700, 0.01),
    (9750, -0.01), (9800, 0.0), (9850, 0.0), (9900, 0.01), (9950, -0.01), (10000, 0.0),
    (10050, 0.01), (10100, 0.0), (10150, -0.01), (10200, 0.0), (10220, 0.02), (10250, 0.0),
    (10300, 0.01), (10355, 0.0)])

res_allende_6000 = np.array([
    (3620, -0.4), (3800, -0.32), (3950, -0.26), (4040, -0.2), (4070, -0.18), (4090, -0.19),
    (4109, -0.16), (4130, -0.17), (4160, -0.15), (4190, -0.14), (4230, -0.13), (4260, -0.135),
    (4290, -0.12), (4320, -0.125), (4352, -0.11), (4380, -0.1), (4410, -0.09), (4440, -0.08),
    (4473, -0.07), (4500, -0.065), (4530, -0.06), (4560, -0.055), (4594, -0.05), (4620, -0.048),
    (4650, -0.05), (4680, -0.045), (4715, -0.048), (4750, -0.04), (4780, -0.038), (4810, -0.035),
    (4836, -0.035), (4870, -0.03), (4900, -0.035), (4930, -0.02), (4958, -0.03), (4985, -0.04),
    (5006, -0.045), (5040, -0.05), (5070, -0.05), (5100, -0.055), (5130, -0.05), (5160, -0.06),
    (5176, -0.075), (5190, -0.055), (5220, -0.045), (5260, -0.045), (5290, -0.04), (5321, -0.04),
    (5360, -0.035), (5400, -0.035), (5440, -0.03), (5467, -0.03), (5500, -0.02), (5530, -0.02),
    (5564, -0.017), (5600, -0.012), (5640, -0.01), (5670, -0.008), (5709, -0.006), (5750, 0.0),
    (5780, 0.003), (5806, 0.006), (5850, 0.0), (5900, 0.005), (5950, 0.0), (6000, 0.005),
    (6048, 0.0), (6100, -0.003), (6150, 0.0), (6200, -0.005), (6250, -0.008), (6300, -0.012),
    (6339, -0.017), (6364, -0.03), (6380, -0.015), (6420, -0.005), (6480, 0.0), (6533, 0.0),
    (6600, 0.005), (6700, 0.003), (6800, 0.0), (6900, 0.005), (7000, 0.0), (7100, 0.003),
    (7200, -0.003), (7300, -0.005), (7400, -0.005), (7500, 0.0), (7600, -0.002), (7700, 0.0),
    (7800, 0.002), (7900, -0.003), (8000, 0.0), (8100, -0.003), (8200, 0.0), (8300, 0.002),
    (8400, -0.003), (8500, 0.0), (8535, -0.02), (8550, 0.0), (8600, -0.005), (8662, -0.02),
    (8680, -0.005), (8800, -0.003), (8900, 0.0), (9000, -0.005), (9050, -0.015), (9100, -0.01),
    (9150, -0.01), (9200, -0.005), (9300, 0.0), (9400, -0.003), (9450, -0.01), (9500, -0.003),
    (9600, 0.0), (9700, 0.002), (9800, 0.0), (9900, 0.003), (10000, 0.005), (10100, 0.005),
    (10200, 0.008), (10300, 0.008), (10355, 0.01)])

labels_3500 = ['Empirical MaStar Spectrum\nT=3589.0  logg=4.7  [Fe/H]=-0.05',
               'Bohlin et al. 2017\nT=3500 K  logg=4.5  [Fe/H]=0.0',
               'Allende Prieto et al. 2018\nT=3500 K  logg=4.5  [Fe/H]=0.0']
labels_6000 = ['Empirical MaStar Spectrum\nT=6013.0  logg=4.6  [Fe/H]=-0.26',
               'Bohlin et al. 2017\nT=6000 K  logg=4.5  [Fe/H]=0.0',
               'Allende Prieto et al. 2018\nT=6000 K  logg=4.5  [Fe/H]=0.0']

BLUE = '#1f77b4'
RED = '#d62728'
plt.rcParams.update({'font.size': 15})

fig = plt.figure(figsize=(13.4, 9.85), dpi=100)
L, W = 0.0657, 0.9254
ax1 = fig.add_axes([L, 0.7127, W, 0.2497])
ax2 = fig.add_axes([L, 0.5817, W, 0.1178], sharex=ax1)
ax3 = fig.add_axes([L, 0.1878, W, 0.2497], sharex=ax1)
ax4 = fig.add_axes([L, 0.0569, W, 0.1188], sharex=ax1)


def main_panel(ax, data, labels, title, yticks, ylim, loc):
    mastar, bohlin, allende = data
    ax.plot(mastar[:, 0], mastar[:, 1], color='k', lw=1.0, zorder=3, label=labels[0])
    ax.plot(bohlin[:, 0], bohlin[:, 1], color=BLUE, lw=1.0, zorder=2, label=labels[1])
    ax.plot(allende[:, 0], allende[:, 1], color=RED, lw=1.0, alpha=0.85, zorder=1, label=labels[2])
    ax.set_title(title, fontsize=21.5)
    ax.set_ylabel('Relative Flux')
    ax.set_yticks(yticks)
    ax.set_ylim(ylim)
    ax.grid(True, color='#b0b0b0', lw=0.8)
    leg = ax.legend(loc=loc, fontsize=15, labelspacing=0.5)
    for t in leg.get_texts():
        t.set_linespacing(1.1)
    ax.tick_params(labelbottom=False, pad=2)


def resid_panel(ax, bohlin, allende, yticks):
    ax.plot(bohlin[:, 0], bohlin[:, 1], color=BLUE, lw=1.0, zorder=2)
    ax.plot(allende[:, 0], allende[:, 1], color=RED, lw=1.0, zorder=3)
    ax.axhline(0, color='k', lw=1.2, alpha=0.8, zorder=4)
    ax.set_ylim(yticks[0], yticks[-1])
    ax.set_yticks(yticks)
    ax.set_ylabel('Residuals')
    ax.set_xlabel(r'Wavelength ($\AA$)', labelpad=2)
    ax.tick_params(pad=2)
    ax.grid(True, color='#b0b0b0', lw=0.8)


main_panel(ax1, (mastar_3500, bohlin_3500, allende_3500), labels_3500,
           r'$T_{eff}$ = 3500 K', [0.0, 0.2, 0.4, 0.6], (-0.2, 0.76), 'upper left')
resid_panel(ax2, res_bohlin_3500, res_allende_3500, [-1.0, -0.5, 0.0, 0.5, 1.0])
main_panel(ax3, (mastar_6000, bohlin_6000, allende_6000), labels_6000,
           r'$T_{eff}$ = 6000 K', [0.5, 1.0, 1.5, 2.0, 2.5, 3.0, 3.5], (0.0, 3.5), 'upper right')
resid_panel(ax4, res_bohlin_6000, res_allende_6000, [-0.2, -0.1, 0.0, 0.1, 0.2])

ax1.set_xlim(3620, 10358)
ax1.set_xticks([4000, 5000, 6000, 7000, 8000, 9000, 10000])

plt.savefig('out.png', dpi=100)
